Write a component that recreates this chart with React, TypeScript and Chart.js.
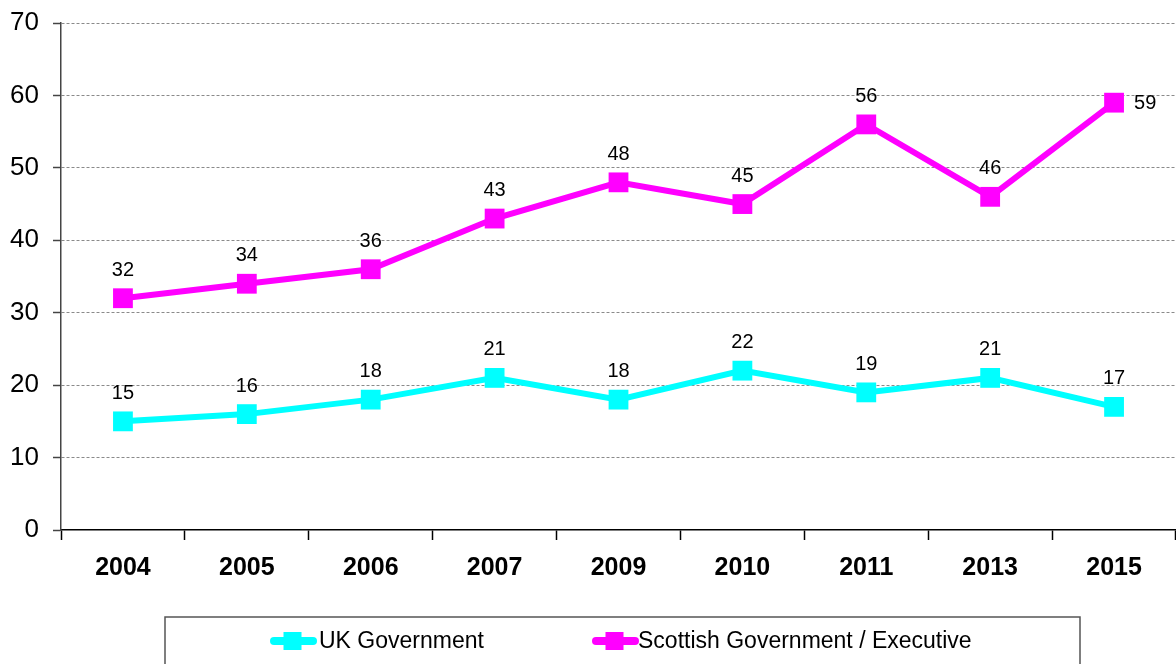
import React, { useEffect, useRef } from "react";
import { Chart, registerables } from "chart.js";

Chart.register(...registerables);

const years = ["2004", "2005", "2006", "2007", "2009", "2010", "2011", "2013", "2015"];
const ukGovernment = [15, 16, 18, 21, 18, 22, 19, 21, 17];
const scottishGovernment = [32, 34, 36, 43, 48, 45, 56, 46, 59];
const yTickValues = [0, 10, 20, 30, 40, 50, 60, 70];
const seriesNames = ["UK Government", "Scottish Government / Executive"];
const seriesColors = ["#00FFFF", "#FF00FF"];

const FONT = '"Liberation Sans", Arial, sans-serif';

const valueLabels = {
  id: "valueLabels",
  afterDatasetsDraw(chart: any) {
    const ctx = chart.ctx;
    ctx.save();
    ctx.font = `20px ${FONT}`;
    ctx.fillStyle = "#000";
    ctx.textBaseline = "middle";
    chart.data.datasets.forEach((ds: any, di: number) => {
      const meta = chart.getDatasetMeta(di);
      meta.data.forEach((pt: any, i: number) => {
        const v = ds.data[i];
        const isLastScot = di === 1 && i === ds.data.length - 1;
        if (isLastScot) {
          ctx.textAlign = "left";
          ctx.fillText(String(v), pt.x + 20, pt.y + 1);
        } else {
          ctx.textAlign = "center";
          ctx.fillText(String(v), pt.x, pt.y - 28);
        }
      });
    });
    ctx.restore();
  },
};

const boxLegend = {
  id: "boxLegend",
  afterDraw(chart: any) {
    const ctx = chart.ctx;
    ctx.save();
    ctx.strokeStyle = "#555";
    ctx.lineWidth = 1.5;
    ctx.strokeRect(165, 617, 915, 80);
    const items = [
      { x0: 270, x1: 315, text: 319 },
      { x0: 592, x1: 637, text: 638 },
    ];
    const y = 641;
    items.forEach((it, i) => {
      ctx.strokeStyle = seriesColors[i];
      ctx.lineWidth = 8;
      ctx.lineCap = "round";
      ctx.beginPath();
      ctx.moveTo(it.x0 + 4, y);
      ctx.lineTo(it.x1 - 2, y);
      ctx.stroke();
      ctx.fillStyle = seriesColors[i];
      const cx = (it.x0 + it.x1) / 2;
      ctx.fillRect(cx - 9, y - 9, 18, 18);
      ctx.fillStyle = "#000";
      ctx.font = `23px ${FONT}`;
      ctx.textAlign = "left";
      ctx.textBaseline = "middle";
      ctx.fillText(seriesNames[i], it.text, y + 1);
    });
    ctx.restore();
  },
};

export default function App() {
  const ref = useRef<HTMLCanvasElement | null>(null);

  useEffect(() => {
    if (!ref.current) return;
    const mk = (i: number, data: number[]) => ({
      label: seriesNames[i],
      data,
      borderColor: seriesColors[i],
      backgroundColor: seriesColors[i],
      borderWidth: 6,
      pointStyle: "rect" as const,
      pointRadius: 14,
      pointHoverRadius: 14,
      pointBorderWidth: 0,
      pointBackgroundColor: seriesColors[i],
      tension: 0,
      clip: false as const,
    });
    const chart = new Chart(ref.current, {
      type: "line",
      data: {
        labels: years,
        datasets: [mk(0, ukGovernment), mk(1, scottishGovernment)],
      },
      options: {
        responsive: false,
        animation: false,
        events: [],
        layout: { autoPadding: false, padding: { top: 23, left: 0, right: 0, bottom: 0 } },
        plugins: {
          legend: { display: false },
          tooltip: { enabled: false },
        },
        scales: {
          x: {
            type: "category",
            offset: true,
            grid: {
              offset: true,
              drawOnChartArea: false,
              drawTicks: true,
              tickLength: 10,
              tickColor: "#000",
              tickWidth: 1.5,
            },
            border: { color: "#000", width: 1.5 },
            ticks: {
              color: "#000",
              font: { family: FONT, size: 25, weight: "bold" },
              padding: 13,
              maxRotation: 0,
              autoSkip: false,
            },
            afterFit: (s: any) => {
              s.height = 134;
              s.paddingLeft = 0;
              s.paddingRight = 0;
            },
          },
          y: {
            min: 0,
            max: 70,
            afterBuildTicks: (s: any) => {
              s.ticks = yTickValues.map((v) => ({ value: v }));
            },
            grid: {
              color: (c: any) => (c.tick && c.tick.value === 0 ? "rgba(0,0,0,0)" : "#8a8a8a"),
              lineWidth: 1,
              tickLength: 8,
              tickColor: "#444",
              tickWidth: 1.5,
            },
            border: { color: "#444", width: 1.5, dash: [3, 2] },
            ticks: {
              color: "#000",
              font: { family: FONT, size: 26 },
              padding: 14,
            },
            afterFit: (s: any) => {
              s.width = 61;
              s.paddingTop = 0;
              s.paddingBottom = 0;
            },
          },
        },
      },
      plugins: [valueLabels, boxLegend],
    });
    return () => chart.destroy();
  }, []);

  return (
    <div style={{ position: "fixed", left: 0, top: 0, width: 1176, height: 664, background: "#fff" }}>
      <canvas ref={ref} width={1176} height={664} style={{ width: 1176, height: 664, display: "block" }} />
    </div>
  );
}
